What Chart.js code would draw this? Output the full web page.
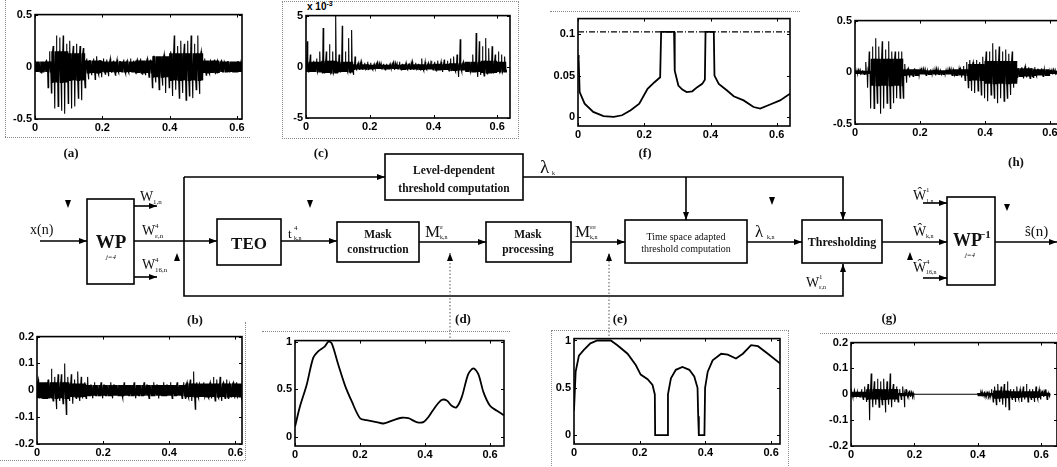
<!DOCTYPE html>
<html>
<head>
<meta charset="utf-8">
<script src="https://cdn.jsdelivr.net/npm/chart.js@4.4.1/dist/chart.umd.min.js"></script>
<style>
  html, body { margin: 0; padding: 0; background: #fff; width: 1057px; height: 467px; overflow: hidden; position: relative; }
  .plot { position: absolute; }
  .plot canvas { display: block; }
  .dot { position: absolute; border: 0 dotted #8a8a8a; }
  svg { position: absolute; left: 0; top: 0; }
  svg text { font-family: "Liberation Serif", "Times New Roman", serif; fill: #111; }
  .exp { position: absolute; font: bold 10px "Liberation Sans", Arial, sans-serif; color: #000; }
</style>
</head>
<body>

<!-- dotted frames around the sub-figures -->
<div class="dot" style="left:5px;top:0;height:137px;border-left-width:1px"></div>
<div class="dot" style="left:5px;top:137px;width:245px;border-top-width:1px"></div>
<div class="dot" style="left:282px;top:1px;width:235px;height:136px;border-width:1px"></div>
<div class="dot" style="left:550px;top:11px;width:250px;border-top-width:1px"></div>
<div class="dot" style="left:245px;top:322px;height:138px;border-left-width:1px"></div>
<div class="dot" style="left:0;top:460px;width:245px;border-top-width:1px"></div>
<div class="dot" style="left:262px;top:331px;width:248px;border-top-width:1px"></div>
<div class="dot" style="left:551px;top:330px;width:236px;height:140px;border-width:1px"></div>
<div class="dot" style="left:820px;top:333px;width:237px;border-top-width:1px"></div>

<div class="exp" style="left:307px;top:0px">x 10<sup style="font-size:7px">-3</sup></div>

<script>
// ---- time axis: one bin every 10 ms, 0 .. 0.62 s ----
const BIN = 0.01;

// (a) noisy input x(n): upper / lower envelope per bin, dense core level per 50 ms
const hiA = [0.04,0.05,0.04,0.06,0.15,0.2,0.3,0.28,0.3,0.22, 0.25,0.2,0.22,0.2,0.18,0.08,0.06,0.08,0.1,0.06,
             0.08,0.07,0.08,0.06,0.07,0.05,0.07,0.06,0.08,0.06, 0.07,0.08,0.06,0.08,0.07,0.1,0.08,0.1,0.12,0.1,
             0.15,0.3,0.2,0.25,0.22,0.25,0.3,0.22,0.3,0.15, 0.08,0.06,0.05,0.07,0.05,0.06,0.04,0.05,0.05,0.04,
             0.05,0.04,0.04];
const loA = [-0.05,-0.06,-0.05,-0.2,-0.25,-0.4,-0.38,-0.42,-0.45,-0.35, -0.4,-0.38,-0.3,-0.32,-0.2,-0.12,-0.08,-0.12,-0.08,-0.1,
             -0.07,-0.09,-0.06,-0.08,-0.06,-0.05,-0.07,-0.06,-0.05,-0.06, -0.05,-0.07,-0.08,-0.1,-0.2,-0.15,-0.22,-0.18,-0.25,-0.2,
             -0.28,-0.22,-0.3,-0.25,-0.32,-0.28,-0.3,-0.22,-0.26,-0.1, -0.08,-0.07,-0.06,-0.05,-0.06,-0.05,-0.05,-0.04,-0.05,-0.04,
             -0.05,-0.04,-0.04];
const coreA = [0.05,0.15,0.13,0.06,0.05,0.05,0.06,0.1,0.13,0.13,0.06,0.05,0.05];

// (b) wavelet coefficients W^4_{e,n}
const hiB = [0.04,0.03,0.03,0.04,0.08,0.05,0.06,0.06,0.1,0.05, 0.06,0.04,0.07,0.05,0.03,0.05,0.02,0.03,0.02,0.03,
             0.02,0.02,0.03,0.02,0.02,0.02,0.03,0.02,0.02,0.03, 0.02,0.02,0.03,0.02,0.02,0.03,0.02,0.02,0.03,0.02,
             0.03,0.02,0.03,0.02,0.03,0.03,0.04,0.07,0.03,0.02, 0.03,0.02,0.03,0.05,0.04,0.05,0.03,0.04,0.02,0.03,
             0.03,0.02,0.03];
const loB = [-0.03,-0.03,-0.02,-0.03,-0.04,-0.07,-0.04,-0.05,-0.09,-0.04, -0.05,-0.03,-0.04,-0.03,-0.03,-0.02,-0.03,-0.02,-0.02,-0.03,
             -0.02,-0.02,-0.03,-0.02,-0.02,-0.03,-0.02,-0.02,-0.02,-0.03, -0.02,-0.02,-0.02,-0.03,-0.02,-0.02,-0.03,-0.02,-0.02,-0.02,
             -0.03,-0.02,-0.02,-0.03,-0.03,-0.03,-0.04,-0.07,-0.03,-0.02, -0.02,-0.03,-0.03,-0.04,-0.03,-0.04,-0.03,-0.03,-0.02,-0.03,
             -0.02,-0.03,-0.02];
const coreB = [0.03,0.03,0.025,0.02,0.02,0.02,0.02,0.02,0.02,0.025,0.025,0.025,0.025];

// (c) TEO output t^4_{k,n}  (x 10^-3)
const hiC = [2.5,1.2,0.6,0.8,1.5,3.8,1.5,2.2,1.5,5, 1.2,4,1.5,2.8,3.6,1,0.4,0.5,0.4,0.5,
             0.4,0.3,0.4,0.3,0.3,0.3,0.3,0.4,0.3,0.5, 0.3,0.4,0.3,0.5,0.4,0.3,0.8,0.5,0.4,0.6,
             0.5,0.6,0.5,0.7,0.6,0.8,1,1.2,2.7,0.5, 0.3,0.5,1.2,3.3,2.5,2,2.8,1.8,2,1.2,
             1.5,1.2,1];
const loC = [-0.2,-0.3,-0.2,-0.3,-0.3,-0.4,-0.3,-0.5,-0.4,-0.3, -0.4,-0.5,-0.3,-0.6,-0.8,-0.3,-0.2,-0.3,-0.2,-0.2,
             -0.3,-0.2,-0.2,-0.2,-0.3,-0.2,-0.2,-0.3,-0.2,-0.3, -0.2,-0.3,-0.2,-0.3,-0.2,-0.3,-0.4,-0.3,-0.2,-0.3,
             -0.4,-0.3,-0.5,-0.3,-0.4,-0.3,-0.5,-1,-0.5,-0.3, -0.2,-0.3,-0.4,-1,-0.8,-0.9,-0.7,-0.6,-0.5,-0.6,
             -0.4,-0.3,-0.3];
const coreC = [0.5,0.6,0.5,0.25,0.2,0.2,0.25,0.25,0.3,0.35,0.5,0.6,0.5];

// (g) thresholded coefficients
const hiG = [0,0,0.01,0.02,0.03,0.04,0.08,0.05,0.06,0.05, 0.06,0.05,0.08,0.04,0.03,0.02,0.03,0.02,0.01,0,
             0,0,0,0,0,0,0,0,0,0, 0,0,0,0,0,0,0,0,0,0,
             0,0,0,0,0.02,0.03,0.04,0.03,0.04,0.05, 0.02,0.02,0.03,0.02,0.03,0.04,0.02,0.02,0.03,0.02,
             0.01,0.02,0];
const loG = [0,0,-0.01,-0.02,-0.03,-0.1,-0.05,-0.04,-0.05,-0.04, -0.07,-0.04,-0.05,-0.03,-0.03,-0.02,-0.05,-0.01,-0.01,0,
             0,0,0,0,0,0,0,0,0,0, 0,0,0,0,0,0,0,0,0,0,
             0,0,0,0,-0.03,-0.04,-0.03,-0.04,-0.05,-0.06, -0.02,-0.03,-0.02,-0.03,-0.02,-0.03,-0.02,-0.03,-0.02,-0.02,
             -0.01,-0.02,0];
const coreG = [0.01,0.02,0.02,0.005,0,0,0,0,0.005,0.015,0.012,0.012,0.006];

// (h) denoised output s(n)
const hiH = [0.01,0.01,0.02,0.1,0.2,0.25,0.33,0.25,0.3,0.22, 0.3,0.2,0.2,0.2,0.2,0.08,0.04,0.03,0.04,0.02,
             0.03,0.02,0.02,0.03,0.02,0.02,0.01,0.02,0.02,0.03, 0.02,0.03,0.04,0.06,0.1,0.12,0.1,0.12,0.1,0.15,
             0.2,0.2,0.28,0.22,0.25,0.2,0.22,0.18,0.2,0.08, 0.04,0.05,0.06,0.05,0.04,0.05,0.03,0.04,0.03,0.02,
             0.02,0.01,0.01];
const loH = [-0.01,-0.01,-0.02,-0.15,-0.35,-0.35,-0.3,-0.4,-0.35,-0.3, -0.35,-0.3,-0.25,-0.25,-0.25,-0.1,-0.05,-0.04,-0.03,-0.03,
             -0.02,-0.03,-0.02,-0.02,-0.03,-0.02,-0.01,-0.02,-0.02,-0.03, -0.02,-0.03,-0.05,-0.08,-0.15,-0.18,-0.2,-0.18,-0.22,-0.25,
             -0.28,-0.22,-0.25,-0.3,-0.25,-0.28,-0.25,-0.22,-0.15,-0.05, -0.04,-0.06,-0.05,-0.06,-0.05,-0.04,-0.03,-0.04,-0.03,-0.02,
             -0.02,-0.01,-0.01];
const coreH = [0.015,0.13,0.13,0.03,0.02,0.02,0.03,0.08,0.11,0.11,0.04,0.03,0.015];

// (d) mask M_{k,n}
const xD = [0,0.015,0.036,0.056,0.072,0.092,0.103,0.113,0.133,0.154,0.174,0.2,0.22,0.251,0.272,0.303,0.328,0.349,
            0.374,0.395,0.41,0.431,0.451,0.467,0.482,0.497,0.513,0.533,0.549,0.564,0.58,0.6,0.62,0.643];
const yD = [0.11,0.32,0.55,0.83,0.9,0.95,1.0,0.98,0.76,0.54,0.38,0.2,0.18,0.16,0.145,0.18,0.205,0.2,
            0.16,0.16,0.21,0.315,0.39,0.385,0.33,0.315,0.42,0.66,0.72,0.66,0.47,0.33,0.28,0.23];

// (e) processed mask M''_{k,n}
const xE = [0,0.005,0.015,0.03,0.05,0.071,0.112,0.132,0.163,0.188,0.203,0.224,0.239,0.246,0.247,0.285,0.286,0.295,
            0.31,0.33,0.351,0.366,0.376,0.378,0.38,0.397,0.399,0.407,0.422,0.448,0.468,0.493,0.514,0.539,0.56,0.59,0.63];
const yE = [0.26,0.67,0.84,0.9,0.97,1.0,1.0,0.95,0.86,0.74,0.64,0.59,0.53,0.43,0,0,0.43,0.6,
            0.69,0.72,0.69,0.62,0.5,0.2,0,0,0.5,0.67,0.79,0.86,0.85,0.81,0.86,0.95,0.94,0.86,0.75];

// (f) time-space adapted threshold lambda_{k,n} and level threshold lambda_k
const xF = [0,0.002,0.005,0.02,0.046,0.077,0.108,0.133,0.159,0.185,0.21,0.231,0.248,0.251,0.29,0.292,0.303,0.315,
            0.328,0.345,0.36,0.375,0.383,0.385,0.41,0.412,0.425,0.45,0.47,0.5,0.53,0.55,0.58,0.61,0.64];
const yF = [0.075,0.07,0.03,0.016,0.006,0.001,0,0.002,0.008,0.016,0.034,0.042,0.048,0.103,0.103,0.056,0.038,0.033,
            0.03,0.031,0.036,0.04,0.045,0.103,0.103,0.05,0.04,0.032,0.025,0.02,0.012,0.01,0.015,0.02,0.028];
const levelF = 0.103;

// tick labels
const xTicks = [0, 0.2, 0.4, 0.6];
const yTicksSig = [-0.5, 0, 0.5];
const yTicksCoef = [-0.2, -0.1, 0, 0.1, 0.2];
const yTicksTeo = [-5, 0, 5];
const yTicksMask = [0, 0.5, 1];
const yTicksThr = [0, 0.05, 0.1];

const YW = 30, XH = 16, PT = 8, PR = 14;

// dense waveform: core oscillation plus one up- and one down-spike per bin
function spikes(hi, lo, core) {
    const pts = [];
    hi.forEach((h, i) => {
        const c = core[Math.floor(i / 5)];
        const t = i * BIN;
        [c, -c, c, h, -c, c, -c, lo[i]].forEach((v, k) => pts.push({ x: t + k * BIN / 8, y: v }));
    });
    return pts;
}
const curve = (xs, ys) => xs.map((x, i) => ({ x, y: ys[i] }));

const sigStyle = { borderColor: '#000', borderWidth: 1.1, pointRadius: 0, tension: 0, fill: false };
const curStyle = { borderColor: '#000', borderWidth: 1.8, pointRadius: 0, tension: 0, fill: false };

// box + inward tick marks, matlab style
const matlabBox = {
    id: 'matlabBox',
    afterDatasetsDraw(chart) {
        const { ctx, chartArea: a } = chart;
        const sx = chart.scales.x, sy = chart.scales.y;
        ctx.save();
        ctx.strokeStyle = '#000';
        ctx.lineWidth = 1;
        ctx.beginPath();
        sx.ticks.forEach(t => {
            const p = Math.round(sx.getPixelForValue(t.value)) + 0.5;
            ctx.moveTo(p, a.bottom); ctx.lineTo(p, a.bottom - 3);
            ctx.moveTo(p, a.top); ctx.lineTo(p, a.top + 3);
        });
        sy.ticks.forEach(t => {
            const p = Math.round(sy.getPixelForValue(t.value)) + 0.5;
            ctx.moveTo(a.left, p); ctx.lineTo(a.left + 3, p);
            ctx.moveTo(a.right, p); ctx.lineTo(a.right - 3, p);
        });
        ctx.stroke();
        ctx.lineWidth = 1.6;
        ctx.strokeRect(a.left, a.top, a.right - a.left, a.bottom - a.top);
        ctx.restore();
    }
};

const tickFont = { family: '"Liberation Sans", Arial, sans-serif', size: 11, weight: 'bold' };

function makePlot(p) {
    const W = p.w + YW + PR, H = p.h + PT + XH;
    const box = document.createElement('div');
    box.className = 'plot';
    box.style.left = (p.left - YW) + 'px';
    box.style.top = (p.top - PT) + 'px';
    const cv = document.createElement('canvas');
    cv.width = W; cv.height = H;
    cv.style.width = W + 'px'; cv.style.height = H + 'px';
    box.appendChild(cv);
    document.body.appendChild(box);

    new Chart(cv, {
        type: 'line',
        data: { datasets: p.datasets },
        options: {
            responsive: false,
            animation: false,
            devicePixelRatio: 1,
            layout: { padding: { left: 0, top: PT, right: PR, bottom: 0 } },
            plugins: { legend: { display: false }, tooltip: { enabled: false } },
            scales: {
                x: {
                    type: 'linear', min: 0, max: p.xMax,
                    grid: { display: false, drawTicks: false }, border: { display: false },
                    afterBuildTicks: s => { s.ticks = xTicks.map(v => ({ value: v })); },
                    afterFit: s => { s.height = XH; },
                    ticks: { font: tickFont, color: '#000', padding: 2, maxRotation: 0, callback: v => String(v) }
                },
                y: {
                    type: 'linear', min: p.yMin, max: p.yMax,
                    grid: { display: false, drawTicks: false }, border: { display: false },
                    afterBuildTicks: s => { s.ticks = p.yTicks.map(v => ({ value: v })); },
                    afterFit: s => { s.width = YW; },
                    ticks: { font: tickFont, color: '#000', padding: 3, callback: v => String(v) }
                }
            }
        },
        plugins: [matlabBox]
    });
}

Chart.defaults.font.family = '"Liberation Sans", Arial, sans-serif';

// top row
makePlot({ left: 35, top: 13, w: 207, h: 106, xMax: 0.615, yMin: -0.5, yMax: 0.5, yTicks: yTicksSig,
    datasets: [{ ...sigStyle, data: spikes(hiA, loA, coreA) }] });
makePlot({ left: 306, top: 14, w: 204, h: 104, xMax: 0.64, yMin: -5, yMax: 5, yTicks: yTicksTeo,
    datasets: [{ ...sigStyle, data: spikes(hiC, loC, coreC) }] });
makePlot({ left: 578, top: 17, w: 212, h: 109, xMax: 0.64, yMin: -0.011, yMax: 0.119, yTicks: yTicksThr,
    datasets: [
        { ...curStyle, borderWidth: 1.2, borderDash: [6, 2, 1, 2], data: [{ x: 0, y: levelF }, { x: 0.64, y: levelF }] },
        { ...curStyle, data: curve(xF, yF) }
    ] });
makePlot({ left: 855, top: 19, w: 208, h: 105, xMax: 0.64, yMin: -0.5, yMax: 0.5, yTicks: yTicksSig,
    datasets: [{ ...sigStyle, data: spikes(hiH, loH, coreH) }] });

// bottom row
makePlot({ left: 37, top: 335, w: 205, h: 109, xMax: 0.62, yMin: -0.2, yMax: 0.2, yTicks: yTicksCoef,
    datasets: [{ ...sigStyle, data: spikes(hiB, loB, coreB) }] });
makePlot({ left: 295, top: 339, w: 209, h: 107, xMax: 0.643, yMin: -0.09, yMax: 1.01, yTicks: yTicksMask,
    datasets: [{ ...curStyle, tension: 0.3, data: curve(xD, yD) }] });
makePlot({ left: 574, top: 337, w: 206, h: 107, xMax: 0.627, yMin: -0.094, yMax: 1.02, yTicks: yTicksMask,
    datasets: [{ ...curStyle, data: curve(xE, yE) }] });
makePlot({ left: 851, top: 341, w: 206, h: 105, xMax: 0.65, yMin: -0.2, yMax: 0.2, yTicks: yTicksCoef,
    datasets: [{ ...sigStyle, data: spikes(hiG, loG, coreG) }] });
</script>

<!-- block diagram -->
<svg width="1057" height="467" viewBox="0 0 1057 467">
  <defs>
    <marker id="ah" markerWidth="8" markerHeight="6" refX="8" refY="3" orient="auto" markerUnits="userSpaceOnUse">
      <path d="M0,0 L8,3 L0,6 z" fill="#000"/>
    </marker>
  </defs>
  <g stroke="#000" stroke-width="1.6" fill="none">
    <line x1="40" y1="241" x2="87" y2="241" marker-end="url(#ah)"/>
    <rect x="87" y="199" width="47" height="85"/>
    <line x1="134" y1="206" x2="157" y2="206" marker-end="url(#ah)"/>
    <line x1="134" y1="241" x2="217" y2="241" marker-end="url(#ah)"/>
    <line x1="134" y1="277" x2="157" y2="277" marker-end="url(#ah)"/>
    <line x1="184" y1="177" x2="385" y2="177" marker-end="url(#ah)"/>
    <polyline points="184,177 184,296 843,296 843,264" marker-end="url(#ah)"/>
    <rect x="385" y="154" width="138" height="46"/>
    <polyline points="523,177 843,177 843,220" marker-end="url(#ah)"/>
    <line x1="686" y1="177" x2="686" y2="220" marker-end="url(#ah)"/>
    <rect x="217" y="219" width="64" height="46"/>
    <line x1="281" y1="241" x2="337" y2="241" marker-end="url(#ah)"/>
    <rect x="337" y="222" width="82" height="40"/>
    <line x1="419" y1="242" x2="486" y2="242" marker-end="url(#ah)"/>
    <rect x="486" y="222" width="85" height="40"/>
    <line x1="571" y1="242" x2="625" y2="242" marker-end="url(#ah)"/>
    <rect x="625" y="220" width="122" height="43"/>
    <line x1="747" y1="242" x2="802" y2="242" marker-end="url(#ah)"/>
    <rect x="802" y="220" width="80" height="43"/>
    <line x1="882" y1="242" x2="947" y2="242" marker-end="url(#ah)"/>
    <rect x="947" y="197" width="48" height="88"/>
    <line x1="923" y1="203" x2="947" y2="203" marker-end="url(#ah)"/>
    <line x1="923" y1="278" x2="947" y2="278" marker-end="url(#ah)"/>
    <line x1="995" y1="242" x2="1057" y2="242" marker-end="url(#ah)"/>
  </g>
  <g stroke="#555" stroke-width="1" stroke-dasharray="1.5,2" fill="none">
    <line x1="450" y1="338" x2="450" y2="253" marker-end="url(#ah)"/>
    <line x1="609" y1="336" x2="609" y2="253" marker-end="url(#ah)"/>
  </g>
  <g fill="#000">
    <path d="M65,200 L71,200 L68,208 z"/>
    <path d="M174,261 L180,261 L177,253 z"/>
    <path d="M307,200 L313,200 L310,208 z"/>
    <path d="M769,197 L775,197 L772,205 z"/>
    <path d="M907,260 L913,260 L910,252 z"/>
    <path d="M1004,204 L1010,204 L1007,211 z"/>
  </g>

  <text x="30" y="234" font-size="14">x(n)</text>
  <text x="111" y="248" font-size="19" font-weight="bold" text-anchor="middle">WP</text>
  <text x="111" y="259" font-size="7" font-style="italic" text-anchor="middle">j=4</text>
  <text x="140" y="201" font-size="14">W</text><text x="153" y="204" font-size="7">1,n</text>
  <text x="142" y="235" font-size="14">W</text><text x="155" y="228" font-size="7">4</text><text x="155" y="238" font-size="7">ε,n</text>
  <text x="142" y="269" font-size="14">W</text><text x="155" y="262" font-size="7">4</text><text x="155" y="272" font-size="7">16,n</text>

  <text x="249" y="249" font-size="17" font-weight="bold" text-anchor="middle">TEO</text>
  <text x="288" y="238" font-size="13">t</text><text x="294" y="230" font-size="7">4</text><text x="294" y="240" font-size="6">k,n</text>

  <text x="378" y="238" font-size="11.5" font-weight="bold" text-anchor="middle">Mask</text>
  <text x="378" y="253" font-size="11.5" font-weight="bold" text-anchor="middle">construction</text>
  <text x="425" y="237" font-size="17">M</text><text x="440" y="229" font-size="7">ε</text><text x="440" y="239" font-size="6">k,n</text>

  <text x="528" y="238" font-size="11.5" font-weight="bold" text-anchor="middle">Mask</text>
  <text x="528" y="253" font-size="11.5" font-weight="bold" text-anchor="middle">processing</text>
  <text x="575" y="237" font-size="17">M</text><text x="590" y="229" font-size="7">εε</text><text x="590" y="239" font-size="6">k,n</text>

  <text x="686" y="240" font-size="10" text-anchor="middle">Time space adapted</text>
  <text x="686" y="252" font-size="10" text-anchor="middle">threshold computation</text>

  <text x="454" y="174" font-size="11.5" font-weight="bold" text-anchor="middle">Level-dependent</text>
  <text x="454" y="192" font-size="11.5" font-weight="bold" text-anchor="middle">threshold computation</text>
  <text x="540" y="173" font-size="19">λ</text><text x="552" y="175" font-size="6">k</text>

  <text x="755" y="237" font-size="17">λ</text><text x="767" y="239" font-size="6">k,n</text>
  <text x="842" y="246" font-size="12" font-weight="bold" text-anchor="middle">Thresholding</text>
  <text x="806" y="287" font-size="14">W</text><text x="819" y="279" font-size="7">1</text><text x="819" y="289" font-size="6">ε,n</text>

  <text x="913" y="200" font-size="14">Ŵ</text><text x="926" y="192" font-size="7">1</text><text x="926" y="203" font-size="6">1,n</text>
  <text x="913" y="236" font-size="14">Ŵ</text><text x="926" y="238" font-size="6">k,n</text>
  <text x="913" y="272" font-size="14">Ŵ</text><text x="926" y="264" font-size="7">4</text><text x="926" y="274" font-size="6">16,n</text>
  <text x="953" y="246" font-size="18" font-weight="bold">WP</text><text x="979" y="238" font-size="11" font-weight="bold">−1</text>
  <text x="970" y="257" font-size="7" font-style="italic" text-anchor="middle">j=4</text>
  <text x="1025" y="236" font-size="15">ŝ(n)</text>

  <g font-size="13" font-weight="bold" text-anchor="middle">
    <text x="71" y="157">(a)</text>
    <text x="321" y="157">(c)</text>
    <text x="645" y="157">(f)</text>
    <text x="1016" y="166">(h)</text>
    <text x="195" y="324">(b)</text>
    <text x="463" y="323">(d)</text>
    <text x="620" y="323">(e)</text>
    <text x="889" y="322">(g)</text>
  </g>
</svg>
</body>
</html>
